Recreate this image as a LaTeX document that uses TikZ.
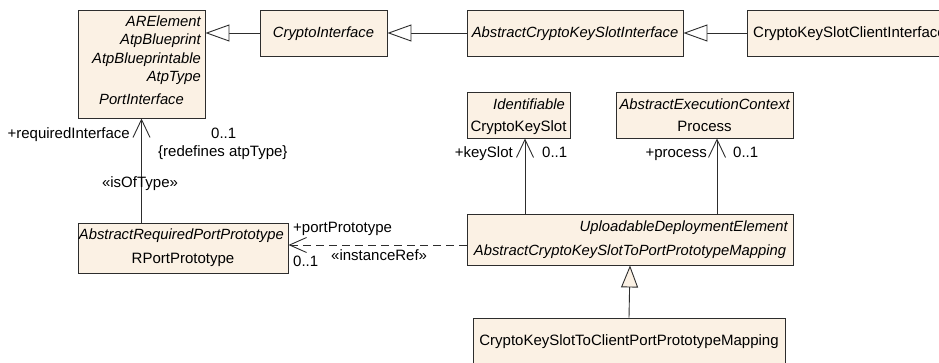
\documentclass[tikz,border=0pt]{standalone}
\usepackage{fontspec}
\setmainfont{Liberation Sans}
\usetikzlibrary{arrows.meta}
\definecolor{boxfill}{RGB}{251,241,228}
\definecolor{boxline}{RGB}{45,45,45}

\begin{document}
\begin{tikzpicture}[x=1pt,y=-1pt,
  cls/.style={draw=boxline, fill=boxfill, line width=0.9pt, inner sep=0pt},
  txt/.style={inner sep=0pt, font=\fontsize{15}{17}\selectfont},
  ital/.style={txt, font=\fontsize{14.8}{17}\selectfont\itshape},
  gen/.style={draw=boxline, line width=0.9pt, -{Triangle[open, length=24pt, width=17pt, fill=white]}},
  genc/.style={draw=boxline, line width=0.9pt, -{Triangle[open, length=22pt, width=17pt, fill=boxfill]}},
  assoc/.style={draw=boxline, line width=0.9pt, -{Straight Barb[length=18pt, width=17pt, line width=0.9pt]}},
  dep/.style={draw=boxline, line width=0.9pt, dash pattern=on 8pt off 5pt, -{Straight Barb[length=17pt, width=15pt, line width=0.9pt]}}]
\useasboundingbox (0,0) rectangle (939,363);
\clip (0,0) rectangle (939,363);

% classes
\node[cls, minimum width=127, minimum height=108] (are) at (141.5,64) {};
\node[cls, minimum width=127, minimum height=46] (ci) at (323.5,33) {};
\node[cls, minimum width=216, minimum height=46] (acksi) at (575,33) {};
\node[cls, minimum width=213, minimum height=46] (ccli) at (853.5,33) {};
\node[cls, minimum width=103, minimum height=46] (slot) at (518.5,115) {};
\node[cls, minimum width=177, minimum height=46] (proc) at (704.5,115) {};
\node[cls, minimum width=326, minimum height=51] (map) at (630,239.5) {};
\node[cls, minimum width=210, minimum height=50] (rport) at (183,248) {};
\node[cls, minimum width=312, minimum height=62] (client) at (629,349) {};

% class texts
\node[ital, anchor=base east] (are1) at (201,27) {ARElement};
\node[ital, anchor=base east] (are2) at (201,45) {AtpBlueprint};
\node[ital, anchor=base east] (are3) at (201,64) {AtpBlueprintable};
\node[ital, anchor=base east] (are4) at (201,82) {AtpType};
\node[ital, anchor=base] (are5) at (141.5,105) {PortInterface};

\node[ital, anchor=base] (citxt) at (323.5,38) {CryptoInterface};
\node[ital, anchor=base] (acksitxt) at (575,38) {AbstractCryptoKeySlotInterface};
\node[txt, anchor=base west] (cclitxt) at (753,38) {CryptoKeySlotClientInterface};

\node[ital, anchor=base east] (slot1) at (565,110) {Identifiable};
\node[txt, anchor=base] (slot2) at (518.5,132) {CryptoKeySlot};
\node[ital, anchor=base east] (proc1) at (790,110) {AbstractExecutionContext};
\node[txt, anchor=base] (proc2) at (704.5,132) {Process};

\node[ital, anchor=base east] (map1) at (788,232) {UploadableDeploymentElement};
\node[ital, anchor=base] (map2) at (630,255) {AbstractCryptoKeySlotToPortPrototypeMapping};
\node[ital, anchor=base east] (rport1) at (284,240) {AbstractRequiredPortPrototype};
\node[txt, anchor=base] (rport2) at (183,263) {RPortPrototype};
\node[txt, anchor=base] (clienttxt) at (629,345) {CryptoKeySlotToClientPortPrototypeMapping};

% connectors
\coordinate (depy) at (0,245);
\coordinate (slotx) at (525,0);
\coordinate (procx) at (717,0);
\draw[gen] (ci.west) -- (ci.west -| are.east);
\draw[gen] (acksi.west) -- (ci.east);
\draw[gen] (ccli.west) -- (acksi.east);
\draw[assoc] (rport.north -| are.south) -- (are.south);
\draw[dep] (map.west |- depy) -- (rport.east |- depy);
\draw[assoc] (map.north -| slotx) -- (slot.south -| slotx);
\draw[assoc] (map.north -| procx) -- (proc.south -| procx);
\draw[genc] (client.north) -- (map.south);

% role labels
\node[txt, anchor=base east] (reqif) at (130,139) {+requiredInterface};
\node[txt, anchor=base west] (reqmul) at (211,139) {0..1};
\node[txt, anchor=base west] (redef) at (158,157) {\{redefines atpType\}};
\node[txt, anchor=base] (oftype) at (140,188) {«isOfType»};
\node[txt, anchor=base west] (pprole) at (293,233) {+portPrototype};
\node[txt, anchor=base west] (ppmul) at (293,266) {0..1};
\node[txt, anchor=base west] (instref) at (331,261) {«instanceRef»};
\node[txt, anchor=base east] (ksrole) at (513,158) {+keySlot};
\node[txt, anchor=base west] (ksmul) at (542,158) {0..1};
\node[txt, anchor=base east] (prrole) at (707,158) {+process};
\node[txt, anchor=base west] (prmul) at (733,158) {0..1};
\end{tikzpicture}
\end{document}
